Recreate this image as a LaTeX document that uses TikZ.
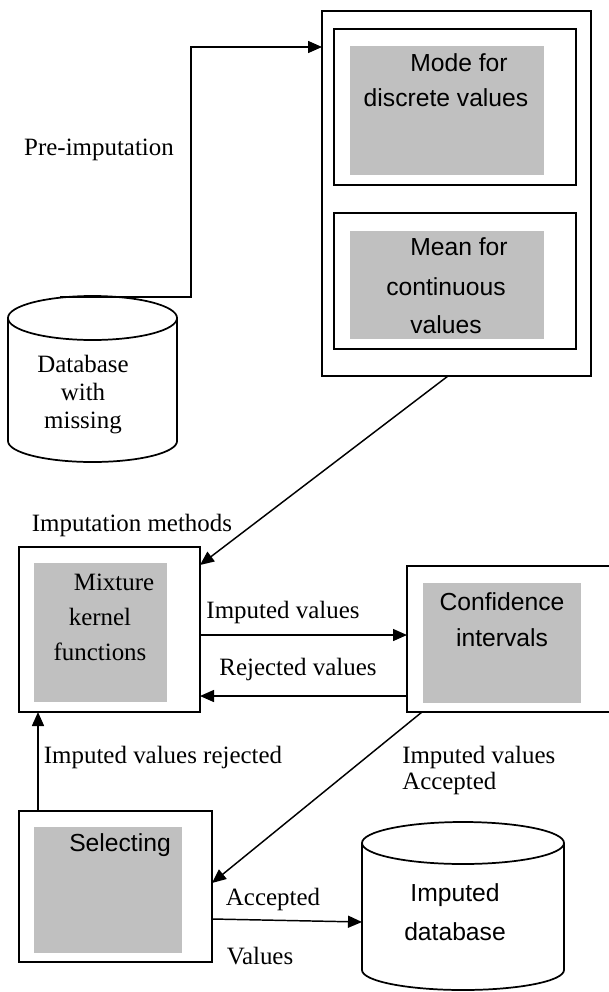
\documentclass[tikz,border=0pt]{standalone}
\usepackage{fontspec}
\usetikzlibrary{arrows.meta}
\newfontfamily\serifface{Liberation Serif}
\newfontfamily\sansface{Liberation Sans}
\newcommand\lblfont{\serifface\fontsize{18.7}{21}\selectfont}
\newcommand\boxfont{\sansface\fontsize{18.5}{27}\selectfont}
\definecolor{boxgray}{RGB}{192,192,192}
\tikzset{
  frame/.style={draw, line width=1.4pt, inner sep=0pt, outer sep=0pt},
  shade/.style={fill=boxgray, inner sep=0pt, outer sep=0pt},
  arr/.style={line width=1.1pt, -{Triangle[length=10.5pt,width=9pt]}},
  lbl/.style={font=\lblfont, inner sep=0pt},
  sans/.style={font=\boxfont, inner sep=0pt},
  drum/.style={line width=1.3pt},
}
\begin{document}
\begin{tikzpicture}[x=0.75pt,y=-0.75pt]
\useasboundingbox (0,0) rectangle (608,992);

% pre-imputation group
\node[frame, minimum width=201.75pt, minimum height=273.75pt] (outer) at (456.5,193.5) {};
\node[frame, minimum width=181.5pt, minimum height=117pt] (in1) at (455,107) {};
\node[shade, minimum width=145.5pt, minimum height=96.75pt] (g1) at (447,110.5) {};
\node[frame, minimum width=181.5pt, minimum height=102pt] (in2) at (455,281) {};
\node[shade, minimum width=145.5pt, minimum height=81pt] (g2) at (447,285) {};
\node[sans] (mode1) at (459,63) {Mode for};
\node[sans] (mode2) at (446,98) {discrete values};
\node[sans] (mean1) at (459,247) {Mean for};
\node[sans] (mean2) at (446,287) {continuous};
\node[sans] (mean3) at (446,325) {values};

% database with missing
\draw[drum] (8,318) -- (8,441) arc[start angle=180,end angle=360,x radius=63.4pt,y radius=15.75pt] -- (177,318);
\draw[drum] (92.5,318) ellipse[x radius=63.4pt, y radius=16.5pt];
\coordinate (dbtop) at (60,297);
\node[lbl, align=center] (dbtxt) at (83,395) {Database\\with\\missing};

% mixture kernel
\node[frame, minimum width=135.75pt, minimum height=123.75pt] (mix) at (109.5,629.5) {};
\node[shade, minimum width=99.75pt, minimum height=104.25pt] (mixg) at (100.5,632.5) {};
\node[lbl] (mx1) at (114,582) {Mixture};
\node[lbl] (mx2) at (100,617) {kernel};
\node[lbl] (mx3) at (100,652) {functions};

% confidence intervals
\node[frame, minimum width=152.25pt, minimum height=109.5pt] (conf) at (508.5,639) {};
\node[shade, minimum width=118.5pt, minimum height=90pt] (confg) at (502,643) {};
\node[sans] (cf1) at (502,602) {Confidence};
\node[sans] (cf2) at (502,638) {intervals};

% selecting
\node[frame, minimum width=144.75pt, minimum height=113.25pt] (sel) at (115.5,886.5) {};
\node[shade, minimum width=111pt, minimum height=94.5pt] (selg) at (108,890) {};
\node[sans] (sl) at (120,845) {Selecting};

% imputed database
\draw[drum] (362,843) -- (362,970) arc[start angle=180,end angle=360,x radius=75.75pt,y radius=15pt] -- (564,843);
\draw[drum] (463,843) ellipse[x radius=75.75pt, y radius=15.75pt];
\coordinate (idbw) at (362,922);
\node[sans] (id1) at (455,895) {Imputed};
\node[sans] (id2) at (455,932) {database};

% labels
\node[lbl] (lpre) at (99,150) {Pre-imputation};
\node[lbl] (limp) at (132,525) {Imputation methods};
\node[lbl] (livl) at (283,612) {Imputed values};
\node[lbl] (lrej) at (298,669) {Rejected values};
\node[lbl] (lirj) at (163,757) {Imputed values rejected};
\node[lbl, anchor=west, align=left] (liac) at (402,770.5) {Imputed values\\[-1pt]Accepted};
\node[lbl] (lacc) at (273,899) {Accepted};
\node[lbl] (lval) at (260,956) {Values};

% connectors
\draw[arr] (dbtop) -| (191,47) -- (outer.west |- 0,47);
\draw[arr] (outer.south -| 448,0) -- (mix.east |- 0,565);
\draw[arr] (mix.east |- 0,635) -- (conf.west |- 0,635);
\draw[arr] (conf.west |- 0,696) -- (mix.east |- 0,696);
\draw[arr] (sel.north -| 38,0) -- (mix.south -| 38,0);
\draw[arr] (conf.south -| 422,0) -- (sel.east |- 0,883);
\draw[arr] (sel.east |- 0,919) -- (idbw);
\end{tikzpicture}
\end{document}
